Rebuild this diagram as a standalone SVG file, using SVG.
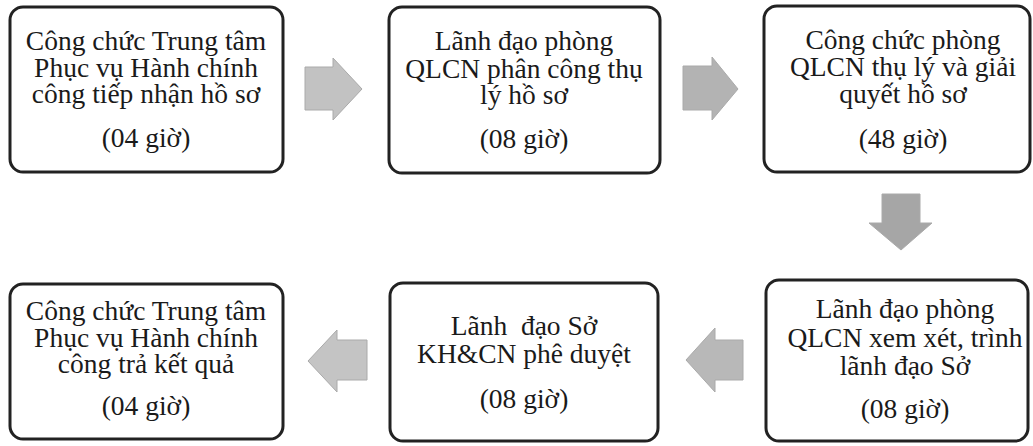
<svg xmlns="http://www.w3.org/2000/svg" width="1033" height="446" viewBox="0 0 1033 446">
<style>
.box{fill:#fff;stroke:#222;stroke-width:3}
.t{font-family:"Liberation Serif","Times New Roman",serif;font-size:27.5px;fill:#1a1a1a;text-anchor:middle}
.arr{fill:#b9b9b9;stroke:#aaa;stroke-width:1}
</style>
<rect width="1033" height="446" fill="#fff"/>
<g id="n1"><rect class="box" x="10" y="7" width="273" height="165" rx="13"/>
<text class="t" x="146" y="50">Công chức Trung tâm</text>
<text class="t" x="146" y="77">Phục vụ Hành chính</text>
<text class="t" x="146" y="103">công tiếp nhận hồ sơ</text>
<text class="t" x="146" y="147">(04 giờ)</text></g>
<g id="n2"><rect class="box" x="389" y="7" width="271" height="166" rx="13"/>
<text class="t" x="524" y="50">Lãnh đạo phòng</text>
<text class="t" x="524" y="78">QLCN phân công thụ</text>
<text class="t" x="524" y="104">lý hồ sơ</text>
<text class="t" x="524" y="148">(08 giờ)</text></g>
<g id="n3"><rect class="box" x="764" y="6" width="266" height="166" rx="13"/>
<text class="t" x="903" y="49">Công chức phòng</text>
<text class="t" x="903" y="76">QLCN thụ lý và giải</text>
<text class="t" x="903" y="103">quyết hồ sơ</text>
<text class="t" x="903" y="148">(48 giờ)</text></g>
<g id="n4"><rect class="box" x="10" y="284" width="273" height="155" rx="13"/>
<text class="t" x="146" y="320">Công chức Trung tâm</text>
<text class="t" x="146" y="347">Phục vụ Hành chính</text>
<text class="t" x="146" y="373">công trả kết quả</text>
<text class="t" x="146" y="415">(04 giờ)</text></g>
<g id="n5"><rect class="box" x="390" y="283" width="268" height="158" rx="13"/>
<text class="t" x="524" y="335" xml:space="preserve">Lãnh  đạo Sở</text>
<text class="t" x="524" y="363">KH&amp;CN phê duyệt</text>
<text class="t" x="524" y="408">(08 giờ)</text></g>
<g id="n6"><rect class="box" x="766" y="280" width="262" height="161" rx="13"/>
<text class="t" x="905" y="318">Lãnh đạo phòng</text>
<text class="t" x="905" y="347">QLCN xem xét, trình</text>
<text class="t" x="905" y="375">lãnh đạo Sở</text>
<text class="t" x="905" y="418">(08 giờ)</text></g>
<g id="connectors">
<polygon class="arr" fill="#c2c2c2" style="fill:#c2c2c2" points="305,67 333,67 333,58 362,89 333,120 333,110 305,110"/>
<polygon class="arr" style="fill:#b3b3b3" points="683,66 712,66 712,57 738,89 712,120 712,110 683,110"/>
<polygon class="arr" style="fill:#a6a6a6" points="882,194 920,194 920,223 932,223 901,250 869,223 882,223"/>
<polygon class="arr" style="fill:#b8b8b8" points="743,340 715,340 715,328 686,360 715,392 715,380 743,380"/>
<polygon class="arr" style="fill:#c4c4c4" points="367,340 337,340 337,330 308,361 337,392 337,380 367,380"/>
</g>
</svg>
